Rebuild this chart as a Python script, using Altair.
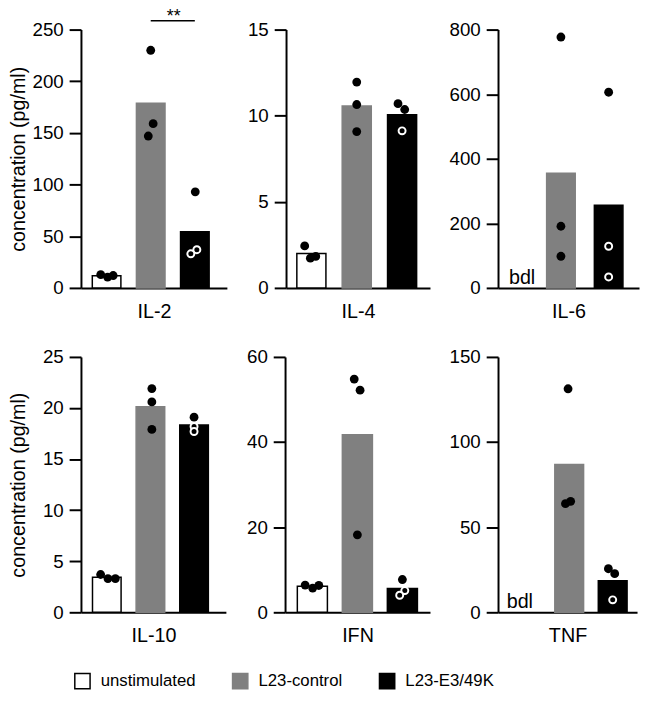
import altair as alt
import pandas as pd

groups = ["unstimulated", "L23-control", "L23-E3/49K"]
fills = ["white", "#808080", "black"]
strokes = ["black", "#808080", "black"]

# replicate values (pg/ml): cytokine -> [unstimulated, L23-control, L23-E3/49K]
values = {
    "IL-2": [[12.8, 10.5, 12.0], [230, 159, 147], [93, 37, 33]],
    "IL-4": [[2.44, 1.73, 1.83], [11.95, 10.65, 9.08], [10.7, 10.36, 9.12]],
    "IL-6": [[], [777, 191, 98], [606, 129, 34]],
    "IL-10": [[3.7, 3.3, 3.3], [21.9, 20.6, 17.9], [19.1, 18.2, 17.7]],
    "IFN": [[6.4, 5.7, 6.3], [54.8, 52.2, 18.2], [7.7, 5.1, 4.0]],
    "TNF": [[], [131.3, 65.2, 63.8], [25.6, 22.7, 7.3]],
}
# horizontal jitter of each replicate (fraction of half bar width)
jitter = {
    "IL-2": [[-0.41, 0.07, 0.46], [0.0, 0.17, -0.17], [0.03, 0.14, -0.28]],
    "IL-4": [[-0.46, -0.07, 0.3], [0.0, 0.0, 0.0], [-0.28, 0.18, 0.0]],
    "IL-6": [[], [0.0, 0.0, 0.0], [0.0, 0.0, 0.0]],
    "IL-10": [[-0.43, 0.08, 0.6], [0.1, 0.1, 0.1], [0.0, 0.0, 0.0]],
    "IFN": [[-0.48, 0.02, 0.43], [-0.21, 0.18, 0.0], [0.0, 0.16, -0.18]],
    "TNF": [[], [-0.08, 0.1, -0.26], [-0.3, 0.14, 0.0]],
}
# open (hollow) symbols
hollow = {
    "IL-2": [[0, 0, 0], [0, 0, 0], [0, 1, 1]],
    "IL-4": [[0, 0, 0], [0, 0, 0], [0, 0, 1]],
    "IL-6": [[], [0, 0, 0], [0, 1, 1]],
    "IL-10": [[0, 0, 0], [0, 0, 0], [0, 1, 1]],
    "IFN": [[0, 0, 0], [0, 0, 0], [0, 1, 1]],
    "TNF": [[], [0, 0, 0], [0, 0, 1]],
}
y_ticks = {
    "IL-2": [0, 50, 100, 150, 200, 250],
    "IL-4": [0, 5, 10, 15],
    "IL-6": [0, 200, 400, 600, 800],
    "IL-10": [0, 5, 10, 15, 20, 25],
    "IFN": [0, 20, 40, 60],
    "TNF": [0, 50, 100, 150],
}
bdl_panels = ["IL-6", "TNF"]
sig_panel = "IL-2"
sig_pair = [1, 2]          # group positions compared
sig_label = "**"
sig_level = 258.6
y_title = "concentration (pg/ml)"

rows = []
for cyt, per_group in values.items():
    for gi, g in enumerate(groups):
        for ri, v in enumerate(per_group[gi]):
            rows.append({"cytokine": cyt, "group": g, "gpos": gi, "value": v,
                         "jitter": jitter[cyt][gi][ri], "hollow": hollow[cyt][gi][ri]})
df = pd.DataFrame(rows)

FONT = "Liberation Sans"

# layout (pixels) per panel: width, height, centre of first bar, bar step, bar width, axis extent
layout = {
    "IL-2": (148, 262, 26.0, 44.75, 29.0, 52),
    "IL-4": (146, 262, 25.7, 46.0, 29.5, 51),
    "IL-6": (143, 262, 15.4, 48.4, 29.0, 60),
    "IL-10": (147, 259, 26.2, 44.25, 29.0, 52),
    "IFN": (147, 259, 27.7, 45.65, 30.5, 51),
    "TNF": (141, 259, 28.1, 44.1, 29.2, 60),
}
bdl_dx = {"IL-6": 9, "TNF": -6}


def panel(cyt, with_title):
    W, H, c0, step, bw, ext = layout[cyt]
    hw = bw / 2.0 / step
    lo = -c0 / step
    hi = lo + W / step
    d = df[df.cytokine == cyt]
    ymax = y_ticks[cyt][-1]
    xs = alt.Scale(domain=[lo, hi], nice=False, zero=False)
    xax = alt.Axis(labels=False, ticks=False, grid=False, title=cyt, domainWidth=2,
                   domainColor="black", titleFontSize=20, titleFontWeight="normal",
                   titleColor="black", titlePadding=14, titleFont=FONT,
                   minExtent=0, maxExtent=0)
    yax_kw = dict(values=y_ticks[cyt], grid=False, domainWidth=2, domainColor="black",
                  tickWidth=2, tickColor="black", tickSize=12, labelFontSize=19,
                  labelColor="black", labelPadding=6, labelFont=FONT,
                  minExtent=ext, maxExtent=ext)
    if with_title:
        yax = alt.Axis(title=y_title, titleFontSize=20, titleFontWeight="normal",
                       titleColor="black", titleFont=FONT, titlePadding=1, **yax_kw)
    else:
        yax = alt.Axis(title=None, **yax_kw)
    ys = alt.Scale(domain=[0, ymax], nice=False, zero=True)
    y = alt.Y("value:Q", scale=ys, axis=yax)

    base = alt.Chart(d)
    bars = base.transform_aggregate(
        value="mean(value)", groupby=["group", "gpos"]
    ).transform_calculate(
        xl=f"datum.gpos - {hw}", xr=f"datum.gpos + {hw}"
    ).mark_bar(strokeWidth=1.5).encode(
        x=alt.X("xl:Q", scale=xs, axis=xax), x2="xr:Q", y=y, y2=alt.datum(0),
        fill=alt.Fill("group:N", scale=alt.Scale(domain=groups, range=fills),
                      legend=alt.Legend(title=None)),
        stroke=alt.Stroke("group:N", scale=alt.Scale(domain=groups, range=strokes),
                          legend=alt.Legend(title=None)),
    )
    pts = base.transform_calculate(
        xp=f"datum.gpos + datum.jitter * {hw}"
    ).mark_point(filled=True, opacity=1).encode(
        x=alt.X("xp:Q", scale=xs, axis=xax), y=y,
        fill=alt.value("black"),
        stroke=alt.condition("datum.hollow == 1", alt.value("white"), alt.value("black")),
        strokeWidth=alt.condition("datum.hollow == 1", alt.value(2), alt.value(0)),
        size=alt.condition("datum.hollow == 1", alt.value(50), alt.value(80)),
    )
    layers = [bars, pts]
    if cyt in bdl_panels:
        t = alt.Chart(pd.DataFrame({"xp": [0], "value": [0], "label": ["bdl"]})).mark_text(
            fontSize=20, font=FONT, color="black", baseline="alphabetic", dy=-4,
            dx=bdl_dx[cyt]).encode(x=alt.X("xp:Q", scale=xs, axis=xax), y=y, text="label:N")
        layers.append(t)
    if cyt == sig_panel:
        sd = pd.DataFrame({"xp": [sig_pair[0]], "xp2": [sig_pair[1]],
                           "xm": [(sig_pair[0] + sig_pair[1]) / 2.0],
                           "value": [sig_level], "label": [sig_label]})
        r = alt.Chart(sd).mark_rule(color="black", strokeWidth=1.5).encode(
            x=alt.X("xp:Q", scale=xs, axis=xax), x2="xp2:Q", y=y)
        t2 = alt.Chart(sd).mark_text(fontSize=18, font=FONT, color="black",
                                     baseline="alphabetic", dy=1, dx=1).encode(
            x=alt.X("xm:Q", scale=xs, axis=xax), y=y, text="label:N")
        layers += [r, t2]
    return alt.layer(*layers).properties(width=W, height=H)


row1 = alt.hconcat(panel("IL-2", True), panel("IL-4", False), panel("IL-6", False), spacing=7)
row2 = alt.hconcat(panel("IL-10", True), panel("IFN", False), panel("TNF", False), spacing=7)
chart = alt.vconcat(row1, row2, spacing=25).properties(
    padding={"left": 0, "top": -6, "right": 0, "bottom": 0}
).configure(font=FONT).configure_view(stroke="transparent").configure_legend(
    orient="none", legendX=-7, legendY=652, direction="horizontal", columns=3,
    symbolType="square", symbolSize=240, symbolStrokeWidth=1.5, labelFontSize=17,
    labelFont=FONT, labelColor="black", labelOffset=10, columnPadding=33,
    symbolOpacity=1
)

chart.save("out.html", embed_options={"renderer": "svg", "actions": False})
